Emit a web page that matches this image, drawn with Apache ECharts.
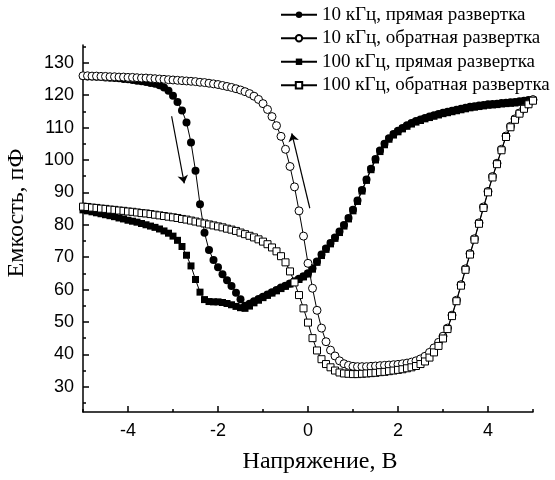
<!DOCTYPE html>
<html>
<head>
<meta charset="utf-8">
<script src="https://cdn.jsdelivr.net/npm/echarts@6/dist/echarts.min.js"></script>
<style>
html,body{margin:0;padding:0;background:#fff;}
#chart{width:555px;height:480px;}
</style>
</head>
<body>
<div id="chart"></div>
<script>
var voltage = [-5.0,-4.9,-4.8,-4.7,-4.6,-4.5,-4.4,-4.3,-4.2,-4.1,-4.0,-3.9,-3.8,-3.7,-3.6,-3.5,-3.4,-3.3,-3.2,-3.1,
-3.0,-2.9,-2.8,-2.7,-2.6,-2.5,-2.4,-2.3,-2.2,-2.1,-2.0,-1.9,-1.8,-1.7,-1.6,-1.5,-1.4,-1.3,-1.2,-1.1,
-1.0,-0.9,-0.8,-0.7,-0.6,-0.5,-0.4,-0.3,-0.2,-0.1,0.0,0.1,0.2,0.3,0.4,0.5,0.6,0.7,0.8,0.9,
1.0,1.1,1.2,1.3,1.4,1.5,1.6,1.7,1.8,1.9,2.0,2.1,2.2,2.3,2.4,2.5,2.6,2.7,2.8,2.9,
3.0,3.1,3.2,3.3,3.4,3.5,3.6,3.7,3.8,3.9,4.0,4.1,4.2,4.3,4.4,4.5,4.6,4.7,4.8,4.9,5.0];

var c10Forward = [125.9,125.8,125.8,125.7,125.6,125.5,125.4,125.3,125.2,125.0,124.9,124.7,124.5,124.3,124.1,123.8,123.5,123.1,122.4,121.4,
119.8,117.9,115.3,111.6,105.4,96.7,86.3,77.5,72.2,69.1,66.9,64.7,62.9,61.1,59.0,57.0,55.0,55.6,56.4,57.1,
57.8,58.5,59.2,59.9,60.6,61.2,61.9,62.6,63.3,64.1,65.0,66.6,68.7,70.8,72.7,74.4,76.1,77.9,79.9,82.1,
84.6,87.5,90.7,94.0,97.3,100.3,102.9,105.0,106.7,108.0,109.0,109.9,110.7,111.4,112.0,112.5,113.0,113.4,113.8,114.2,
114.6,114.9,115.2,115.5,115.8,116.1,116.4,116.6,116.8,117.0,117.2,117.3,117.4,117.6,117.7,117.8,117.9,118.1,118.3,118.5,118.7];

var c10Reverse = [126.0,126.0,125.9,125.9,125.8,125.8,125.7,125.7,125.6,125.6,125.5,125.5,125.4,125.3,125.3,125.2,125.1,125.0,124.9,124.8,
124.7,124.6,124.5,124.4,124.3,124.2,124.0,123.9,123.7,123.5,123.3,123.0,122.7,122.4,122.0,121.6,121.1,120.5,119.7,118.7,
117.4,115.6,113.4,110.6,107.3,103.3,98.0,91.7,84.3,76.5,68.1,60.4,53.6,48.1,43.9,41.3,39.5,38.0,37.1,36.6,
36.3,36.2,36.2,36.2,36.3,36.4,36.5,36.6,36.7,36.8,36.9,37.1,37.3,37.6,38.0,38.6,39.4,40.6,42.0,43.7,
45.6,48.1,52.1,56.7,61.5,66.4,71.1,75.7,80.6,85.5,90.3,94.9,99.0,103.3,107.4,110.4,112.7,114.5,116.0,117.4,118.6];

var c100Forward = [84.6,84.3,84.0,83.7,83.4,83.1,82.8,82.5,82.1,81.8,81.4,81.1,80.8,80.4,80.0,79.6,79.2,78.7,78.1,77.4,
76.5,75.2,73.3,70.6,67.3,63.1,59.2,56.9,56.3,56.2,56.2,56.0,55.7,55.3,54.8,54.4,54.2,54.9,55.9,56.7,
57.5,58.2,58.9,59.6,60.3,61.0,61.7,62.4,63.1,63.9,64.8,66.3,68.4,70.5,72.4,74.1,75.8,77.6,79.6,81.8,
84.3,87.2,90.4,93.7,97.0,100.0,102.6,104.7,106.4,107.7,108.7,109.6,110.4,111.1,111.7,112.2,112.7,113.1,113.5,113.9,
114.3,114.6,114.9,115.2,115.5,115.8,116.1,116.3,116.5,116.7,116.9,117.0,117.1,117.3,117.4,117.5,117.6,117.8,118.0,118.2,118.4];

var c100Reverse = [85.6,85.5,85.3,85.2,85.0,84.9,84.7,84.6,84.4,84.3,84.1,84.0,83.8,83.6,83.5,83.3,83.1,82.9,82.7,82.5,
82.3,82.1,81.8,81.6,81.3,81.0,80.7,80.4,80.1,79.8,79.5,79.2,78.8,78.5,78.1,77.6,77.1,76.6,76.1,75.5,
74.8,74.0,73.0,71.8,70.3,68.4,65.6,62.2,58.3,54.2,49.8,45.0,41.2,38.5,37.0,36.0,35.0,34.4,34.1,34.0,
33.9,33.9,34.0,34.1,34.2,34.3,34.5,34.6,34.8,35.0,35.2,35.4,35.7,36.0,36.4,37.0,37.8,39.0,40.6,42.6,
44.9,47.8,51.8,56.4,61.2,66.1,70.8,75.4,80.3,85.2,90.0,94.6,98.7,103.0,107.1,110.1,112.4,114.3,115.8,117.2,118.3];

var seriesNames = ['10 кГц, прямая развертка','10 кГц, обратная развертка','100 кГц, прямая развертка','100 кГц, обратная развертка'];

var xMajorTicks = [-4,-2,0,2,4];
var xMinorTicks = [-5,-3,-1,1,3,5];
var yMajorTicks = [30,40,50,60,70,80,90,100,110,120,130];
var yMinorTicks = [25,35,45,55,65,75,85,95,105,115,125,135];

// arrows: [start, end] in data coordinates
var arrowDown = [[-3.03,113.5],[-2.75,92.8]];
var arrowUp = [[0.04,85.1],[-0.36,108.2]];

function pairs(vals){
  var out = [];
  for (var i = 0; i < voltage.length; i++) out.push([voltage[i], vals[i]]);
  return out;
}

var chart = echarts.init(document.getElementById('chart'), null, {renderer:'canvas'});

var serif = 'Liberation Serif';
var sans = 'Liberation Sans';

function mkSeries(name, vals, symbol, size, filled, z){
  return {
    name: name,
    type: 'line',
    data: pairs(vals),
    symbol: symbol,
    symbolSize: size,
    showSymbol: true,
    z: z,
    lineStyle: {color:'#000', width:1},
    itemStyle: filled ? {color:'#000', borderColor:'#000', borderWidth:0} : {color:'#fff', borderColor:'#000', borderWidth:1},
    emphasis: {disabled:true},
    animation: false
  };
}

var series = [
  mkSeries(seriesNames[0], c10Forward, 'circle', 8, true, 2),
  mkSeries(seriesNames[1], c10Reverse, 'circle', 8, false, 3),
  mkSeries(seriesNames[2], c100Forward, 'rect', 7, true, 2),
  mkSeries(seriesNames[3], c100Reverse, 'rect', 7, false, 4)
];
series[0].markLine = {
  silent: true,
  symbol: ['none','arrow'],
  symbolSize: 8,
  label: {show:false},
  lineStyle: {color:'#000', width:1.2, type:'solid'},
  emphasis: {disabled:true},
  animation: false,
  data: [
    [{coord: arrowDown[0]}, {coord: arrowDown[1]}],
    [{coord: arrowUp[0]}, {coord: arrowUp[1]}]
  ]
};

var option = {
  backgroundColor: '#fff',
  animation: false,
  grid: {left:83, right:22, top:45, bottom:68, containLabel:false},
  legend: {
    orient: 'vertical',
    left: 280,
    top: 5,
    padding: 0,
    itemWidth: 36,
    itemHeight: 8,
    itemGap: 4,
    data: seriesNames,
    lineStyle: {width: 2},
    textStyle: {fontFamily: serif, fontSize: 19, color:'#000', lineHeight: 19.5}
  },
  xAxis: [{
    type: 'value', min: -5, max: 5, position: 'bottom',
    axisLine: {show:true, onZero:false, lineStyle:{color:'#000', width:1.5}},
    axisTick: {show:true, inside:true, length:6, customValues: xMajorTicks, lineStyle:{color:'#000', width:1.5}},
    axisLabel: {customValues: xMajorTicks, color:'#000', fontFamily: sans, fontSize: 18, margin: 10},
    splitLine: {show:false}
  },{
    type: 'value', min: -5, max: 5, position: 'bottom', gridIndex: 0,
    axisLine: {show:false, onZero:false},
    axisTick: {show:true, inside:true, length:3, customValues: xMinorTicks, lineStyle:{color:'#000', width:1.5}},
    axisLabel: {show:false},
    splitLine: {show:false}
  }],
  yAxis: [{
    type: 'value', min: 22.2, max: 135.5, position: 'left',
    axisLine: {show:true, onZero:false, lineStyle:{color:'#000', width:1.5}},
    axisTick: {show:true, inside:true, length:6, customValues: yMajorTicks, lineStyle:{color:'#000', width:1.5}},
    axisLabel: {customValues: yMajorTicks, color:'#000', fontFamily: sans, fontSize: 18, margin: 9},
    splitLine: {show:false}
  },{
    type: 'value', min: 22.2, max: 135.5, position: 'left', gridIndex: 0,
    axisLine: {show:false, onZero:false},
    axisTick: {show:true, inside:true, length:3, customValues: yMinorTicks, lineStyle:{color:'#000', width:1.5}},
    axisLabel: {show:false},
    splitLine: {show:false}
  }],
  graphic: [
    {type:'text', x: 320, y: 462, style:{text:'Напряжение, В', fontFamily: serif, fontSize: 24, fill:'#000', x:0, y:0, align:'center', verticalAlign:'middle'}},
    {type:'text', x: 17, y: 213, rotation: Math.PI/2, style:{text:'Емкость, пФ', fontFamily: serif, fontSize: 24, fill:'#000', x:0, y:0, align:'center', verticalAlign:'middle'}}
  ],
  series: series
};
chart.setOption(option);
</script>
</body>
</html>
